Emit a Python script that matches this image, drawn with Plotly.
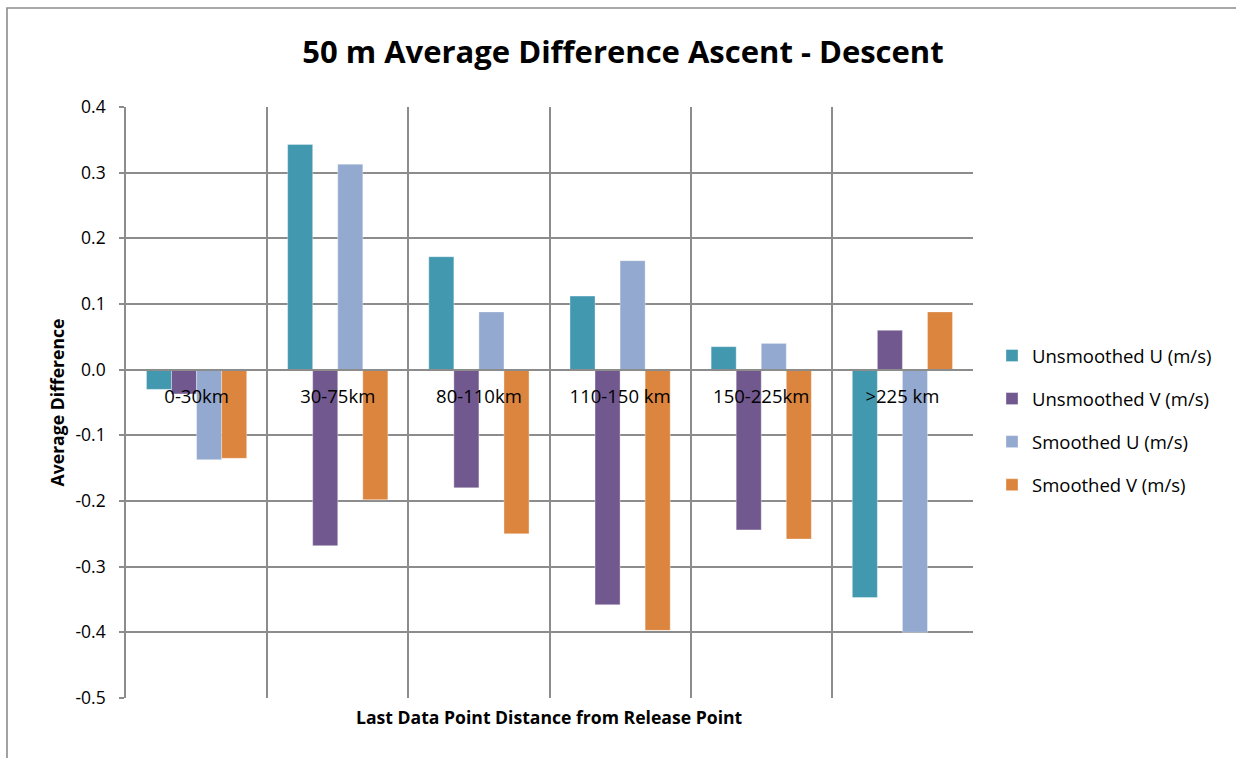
import plotly.graph_objects as go

# Distance bands and the four wind-difference series
categories = ["0-30km", "30-75km", "80-110km", "110-150 km", "150-225km", ">225 km"]
unsmoothed_u = [-0.030, 0.343, 0.172, 0.112, 0.035, -0.347]
unsmoothed_v = [-0.037, -0.268, -0.180, -0.358, -0.244, 0.060]
smoothed_u = [-0.137, 0.313, 0.088, 0.166, 0.040, -0.400]
smoothed_v = [-0.135, -0.198, -0.250, -0.397, -0.258, 0.088]

# value-axis ticks (hyphen minus, one decimal)
y_tick_values = [0.4, 0.3, 0.2, 0.1, 0.0, -0.1, -0.2, -0.3, -0.4, -0.5]
y_tick_labels = ["0.4", "0.3", "0.2", "0.1", "0.0", "-0.1", "-0.2", "-0.3", "-0.4", "-0.5"]

series_names = ["Unsmoothed U (m/s)", "Unsmoothed V (m/s)", "Smoothed U (m/s)", "Smoothed V (m/s)"]
series_values = [unsmoothed_u, unsmoothed_v, smoothed_u, smoothed_v]
series_colors = ["#4298AF", "#71588F", "#93A9CF", "#DC853E"]

W, H = 1236, 758
L, R, T, B = 126, 973, 107, 698  # plot area in pixels
YMIN, YMAX = -0.5, 0.4

FONT = "Open Sans"
GRID = "#8C8C8C"

fig = go.Figure()
for i, (name, vals, col) in enumerate(zip(series_names, series_values, series_colors)):
    fig.add_trace(go.Bar(
        x=categories, y=vals, name=name,
        marker=dict(color=col, line=dict(color="rgba(255,255,255,0.35)", width=1)),
        legendgroup=f"g{i}",
    ))

zero_pos = (0 - YMIN) / (YMAX - YMIN)

fig.update_layout(
    width=W, height=H,
    margin=dict(l=L, r=W - R, t=T, b=H - B),
    paper_bgcolor="white", plot_bgcolor="white",
    barmode="group", bargap=0.29, bargroupgap=0,
    font=dict(family=FONT, color="black", size=18),
    title=dict(
        text="<b>50 m Average Difference Ascent - Descent</b>",
        x=0.504, xref="container", xanchor="center",
        y=1 - 52 / H, yref="container", yanchor="middle",
        font=dict(family=FONT, size=31, color="black"),
    ),
    xaxis=dict(
        type="category",
        anchor="free", position=zero_pos,
        tickson="boundaries",
        showgrid=True, gridcolor=GRID, gridwidth=1.6,
        showline=True, linecolor=GRID, linewidth=1.6,
        ticks="", ticklabelstandoff=10,
        tickfont=dict(family=FONT, size=18.5),
        range=[-0.5, len(categories) - 0.5],
    ),
    yaxis=dict(
        range=[YMIN, YMAX],
        tickmode="array", tickvals=y_tick_values, ticktext=y_tick_labels,
        showgrid=True, gridcolor=GRID, gridwidth=1.6,
        zeroline=False,
        showline=True, linecolor=GRID, linewidth=1.6,
        ticks="outside", ticklen=5, tickcolor=GRID, tickwidth=1.6,
        ticklabelstandoff=10,
        tickfont=dict(family=FONT, size=17.5),
        title=dict(text="<b>Average Difference</b>", font=dict(family=FONT, size=17.6), standoff=6),
    ),
    legend=dict(
        x=(992 - L) / (R - L), xanchor="left",
        y=1 - (337 - T) / (B - T), yanchor="top",
        font=dict(family=FONT, size=18.5),
        tracegroupgap=16, bgcolor="rgba(0,0,0,0)",
        itemwidth=30,
    ),
    showlegend=True,
)

fig.add_annotation(
    text="<b>Last Data Point Distance from Release Point</b>",
    xref="paper", yref="paper",
    x=0.5, y=-(717 - B) / (B - T),
    xanchor="center", yanchor="middle", showarrow=False,
    font=dict(family=FONT, size=17.6, color="black"),
)

# chart-area frame
fig.add_shape(
    type="rect", xref="paper", yref="paper",
    x0=(7 - L) / (R - L), x1=(1245 - L) / (R - L),
    y0=-(770 - B) / (B - T), y1=1 + (T - 8) / (B - T),
    line=dict(color="#8C8C8C", width=1.6), fillcolor="rgba(0,0,0,0)", layer="below",
)

fig.write_html("out.html")
